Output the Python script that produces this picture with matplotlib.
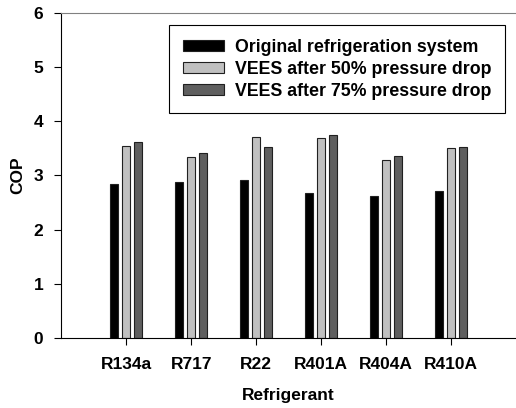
import numpy as np
import matplotlib
matplotlib.use("Agg")
import matplotlib.pyplot as plt

plt.rcParams["font.family"] = ["Liberation Sans", "DejaVu Sans"]
plt.rcParams["font.weight"] = "bold"

refrigerants = ["R134a", "R717", "R22", "R401A", "R404A", "R410A"]
original = [2.85, 2.88, 2.92, 2.67, 2.62, 2.71]
vees_50 = [3.55, 3.34, 3.71, 3.69, 3.29, 3.50]
vees_75 = [3.61, 3.41, 3.52, 3.75, 3.36, 3.52]

series = [
    ("Original refrigeration system", original, "#000000"),
    ("VEES after 50% pressure drop", vees_50, "#c0c0c0"),
    ("VEES after 75% pressure drop", vees_75, "#5f5f5f"),
]

fig = plt.figure(figsize=(5.16, 4.08), dpi=100)
ax = fig.add_axes([0.119, 0.172, 0.881, 0.796])

x = np.arange(len(refrigerants))
width = 0.125
step = 0.185
for i, (label, vals, color) in enumerate(series):
    ax.bar(x + (i - 1) * step, vals, width, color=color, edgecolor="#202020",
           linewidth=0.8, label=label)

ax.set_xlim(-1.0, 6.0)
ax.set_ylim(0, 6)
ax.set_xticks(x)
ax.set_xticklabels(refrigerants, fontsize=12.5, fontweight="bold")
ax.set_yticks(range(7))
ax.set_yticklabels([str(v) for v in range(7)], fontsize=12.5, fontweight="bold")
ax.tick_params(axis="both", direction="out", length=5, width=0.8, color="black")
ax.tick_params(axis="x", pad=9)
ax.tick_params(axis="y", pad=8)

ax.spines["right"].set_visible(False)
ax.spines["top"].set_color("#808080")
ax.spines["left"].set_linewidth(0.8)
ax.spines["bottom"].set_linewidth(0.8)

ax.set_xlabel("Refrigerant", fontsize=12.5, fontweight="bold", labelpad=11)
ax.set_ylabel("COP", fontsize=12.5, fontweight="bold", labelpad=6)

leg = ax.legend(loc="upper right", bbox_to_anchor=(0.976, 0.962), fontsize=12.8,
                fancybox=False, framealpha=1, edgecolor="black",
                handlelength=2.3, handleheight=0.55, handletextpad=0.65,
                borderpad=0.75, labelspacing=0.28, borderaxespad=0)
leg.get_frame().set_linewidth(0.8)
for t in leg.get_texts():
    t.set_fontweight("bold")

fig.savefig("out.png", dpi=100)
